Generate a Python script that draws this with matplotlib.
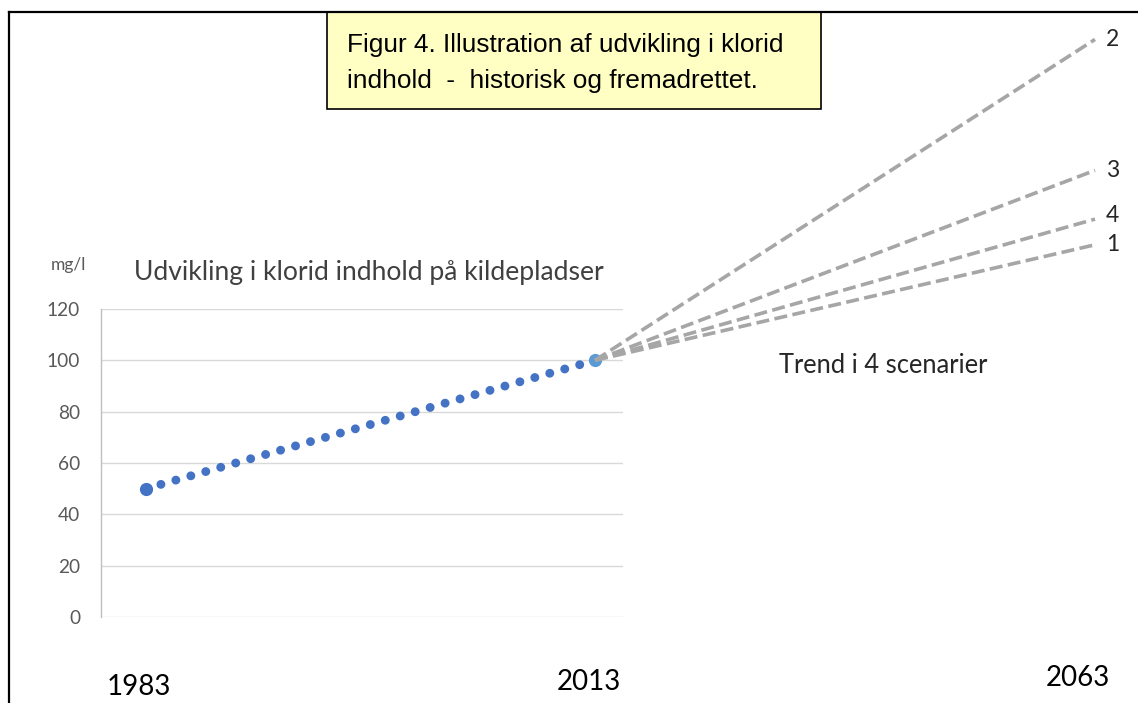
import matplotlib
matplotlib.use("Agg")
import matplotlib.pyplot as plt
from matplotlib.patches import Rectangle
from matplotlib.lines import Line2D

W, H = 1138, 703

# ---- data ----
hist_years = [1983, 2013]
hist_values = [50, 100]
start_year = 2013
end_year = 2063
start_value = 100
scenario_names = ["2", "3", "4", "1"]
scenario_end_values = [225, 174, 155, 145]
y_ticks = [0, 20, 40, 60, 80, 100, 120]

title_box = "Figur 4. Illustration af udvikling i klorid\nindhold  -  historisk og fremadrettet."
chart_title = "Udvikling i klorid indhold på kildepladser"
unit_label = "mg/l"
trend_label = "Trend i 4 scenarier"
year_labels = ["1983", "2013", "2063"]

FONT = "Lato"
plt.rcParams["font.family"] = [FONT, "DejaVu Sans"]


def fx(px):
    return px / W


def fy(py):
    return 1 - py / H


fig = plt.figure(figsize=(W / 100, H / 100), dpi=100)

# main chart axes
ax = fig.add_axes([fx(101), fy(617), fx(623) - fx(101), fy(309) - fy(617)])
ax.set_xlim(1980.0, 2014.87)
ax.set_ylim(0, 120)
ax.set_yticks(y_ticks)
ax.set_xticks([])
ax.grid(axis="y", color="#d9d9d9", linewidth=1)
ax.set_axisbelow(True)
for s in ["top", "right", "bottom"]:
    ax.spines[s].set_visible(False)
ax.spines["left"].set_color("#bfbfbf")
ax.spines["left"].set_linewidth(1)
ax.tick_params(axis="y", length=0, pad=15, labelsize=13.8, labelcolor="#595959")
for lab in ax.get_yticklabels():
    lab.set_fontfamily(FONT)

ax.plot(hist_years, hist_values, color="#4472C4", linewidth=6.4,
        linestyle=(0, (0.01, 1.74)), dash_capstyle="round", zorder=3)
ax.plot(hist_years[:1], hist_values[:1], "o", color="#4472C4", markersize=8.5, zorder=4)
ax.plot(hist_years[-1:], hist_values[-1:], "o", color="#5B9BD5", markersize=8.5, zorder=4)

# overlay axes for the projection scenarios (illustrative, different x scale)
ov = fig.add_axes([0, 0, 1, 1])
ov.set_xlim(start_year - 59.5, start_year + 54.3)
ov.set_ylim((617 - 703) / 2.567, 617 / 2.567)
ov.axis("off")
ov.patch.set_alpha(0)
for name, v in zip(scenario_names, scenario_end_values):
    ov.plot([start_year, end_year], [start_value, v], color="#a6a6a6", linewidth=2.6,
            linestyle=(0, (3.6, 1.5)), zorder=2)
    dy = 1.5 if name == "4" else 0
    ov.text(end_year + 1.1, v + dy, name, fontsize=16.5, color="#262626",
            ha="left", va="center", family=FONT)

# border (left and top)
fig.add_artist(Line2D([fx(9), fx(9)], [0, fy(11.5)], color="black", linewidth=1.6))
fig.add_artist(Line2D([fx(9), 1], [fy(11.5), fy(11.5)], color="black", linewidth=1.6))

# yellow title box
fig.add_artist(Rectangle((fx(327), fy(109)), fx(821) - fx(327), fy(12) - fy(109),
                         facecolor="#FFFFC4", edgecolor="black", linewidth=1.2))
fig.text(fx(347), fy(63), title_box, fontsize=18.9, family=["Liberation Sans"],
         color="black", ha="left", va="center", linespacing=1.68)

# chart texts
fig.text(fx(134), fy(272), chart_title, fontsize=19.1, color="#404040", ha="left", va="center")
fig.text(fx(68), fy(265), unit_label, fontsize=12.5, color="#595959", ha="center", va="center")
fig.text(fx(779), fy(366), trend_label, fontsize=18.4, color="#262626", ha="left", va="center")

fig.text(fx(139), fy(687), year_labels[0], fontsize=20, color="black", ha="center", va="center")
fig.text(fx(589), fy(682), year_labels[1], fontsize=20, color="black", ha="center", va="center")
fig.text(fx(1078), fy(678), year_labels[2], fontsize=20, color="black", ha="center", va="center")

fig.savefig("out.png", dpi=100)
